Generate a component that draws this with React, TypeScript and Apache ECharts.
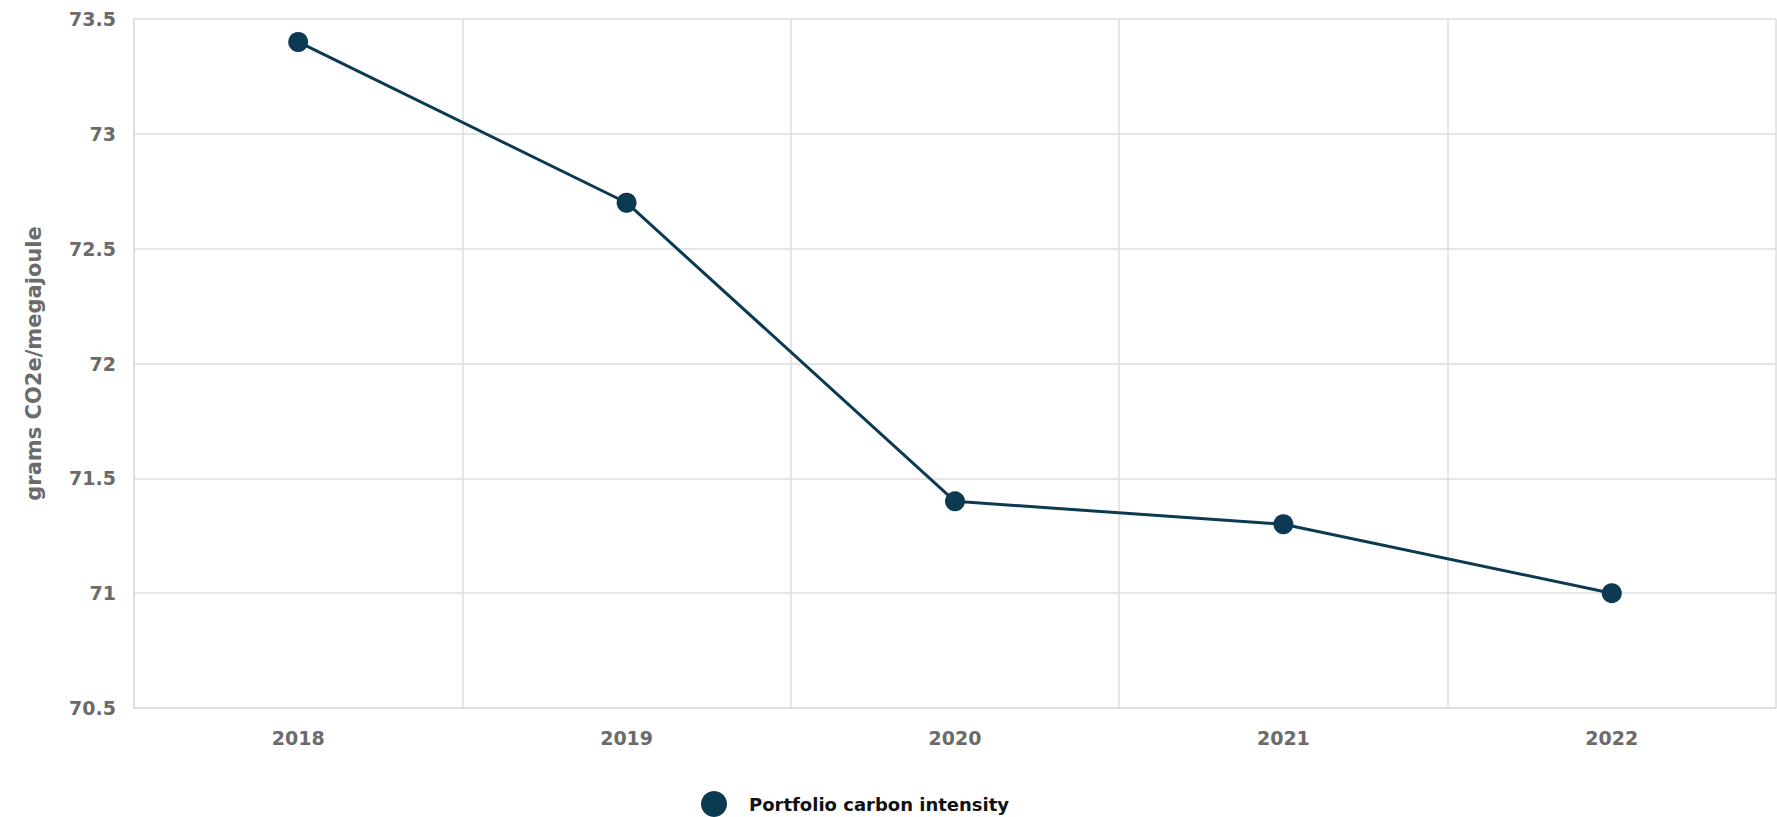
import React, { useEffect, useRef } from "react";
import * as echarts from "echarts";

const years = ["2018", "2019", "2020", "2021", "2022"];
const intensity = [73.4, 72.7, 71.4, 71.3, 71.0];
const seriesName = "Portfolio carbon intensity";
const yAxisName = "grams CO2e/megajoule";

export default function App() {
  const ref = useRef<HTMLDivElement>(null);
  useEffect(() => {
    document.body.style.margin = "0";
    const chart = echarts.init(ref.current!, null, { renderer: "svg" });
    const font = "DejaVu Sans";
    chart.setOption({
      animation: false,
      backgroundColor: "#ffffff",
      grid: { left: 134, right: 1, top: 19, bottom: 109, containLabel: false },
      legend: {
        data: [{ name: seriesName, icon: "circle" }],
        left: 696,
        top: 786,
        itemWidth: 26,
        itemHeight: 26,
        textStyle: {
          fontFamily: font,
          fontWeight: "bold",
          fontSize: 18,
          color: "#111111",
          padding: [4, 0, 0, 17],
        },
      },
      xAxis: {
        type: "category",
        data: years,
        boundaryGap: true,
        axisLine: { show: true, lineStyle: { color: "#dcdcdc", width: 1.5 } },
        axisTick: { show: false },
        splitLine: { show: true, lineStyle: { color: "#dcdcdc", width: 1.5 } },
        axisLabel: {
          margin: 20,
          fontFamily: font,
          fontWeight: "bold",
          fontSize: 19,
          color: "#6b6b6b",
        },
      },
      yAxis: {
        type: "value",
        min: 70.5,
        max: 73.5,
        interval: 0.5,
        name: yAxisName,
        nameLocation: "middle",
        nameGap: 90,
        nameTextStyle: {
          fontFamily: font,
          fontWeight: "bold",
          fontSize: 21,
          color: "#6b6b6b",
        },
        axisLine: { show: true, lineStyle: { color: "#dcdcdc", width: 1.5 } },
        axisTick: { show: false },
        splitLine: { show: true, lineStyle: { color: "#dcdcdc", width: 1.5 } },
        axisLabel: {
          margin: 18,
          fontFamily: font,
          fontWeight: "bold",
          fontSize: 19,
          color: "#6b6b6b",
        },
      },
      series: [
        {
          name: seriesName,
          type: "line",
          data: intensity,
          symbol: "circle",
          symbolSize: 20,
          color: "#0c3a52",
          lineStyle: { color: "#0c3a52", width: 3 },
          itemStyle: { color: "#0c3a52" },
        },
      ],
    });
    return () => chart.dispose();
  }, []);
  return (
    <div
      ref={ref}
      style={{ position: "absolute", left: 0, top: 0, width: 1777, height: 817 }}
    />
  );
}
